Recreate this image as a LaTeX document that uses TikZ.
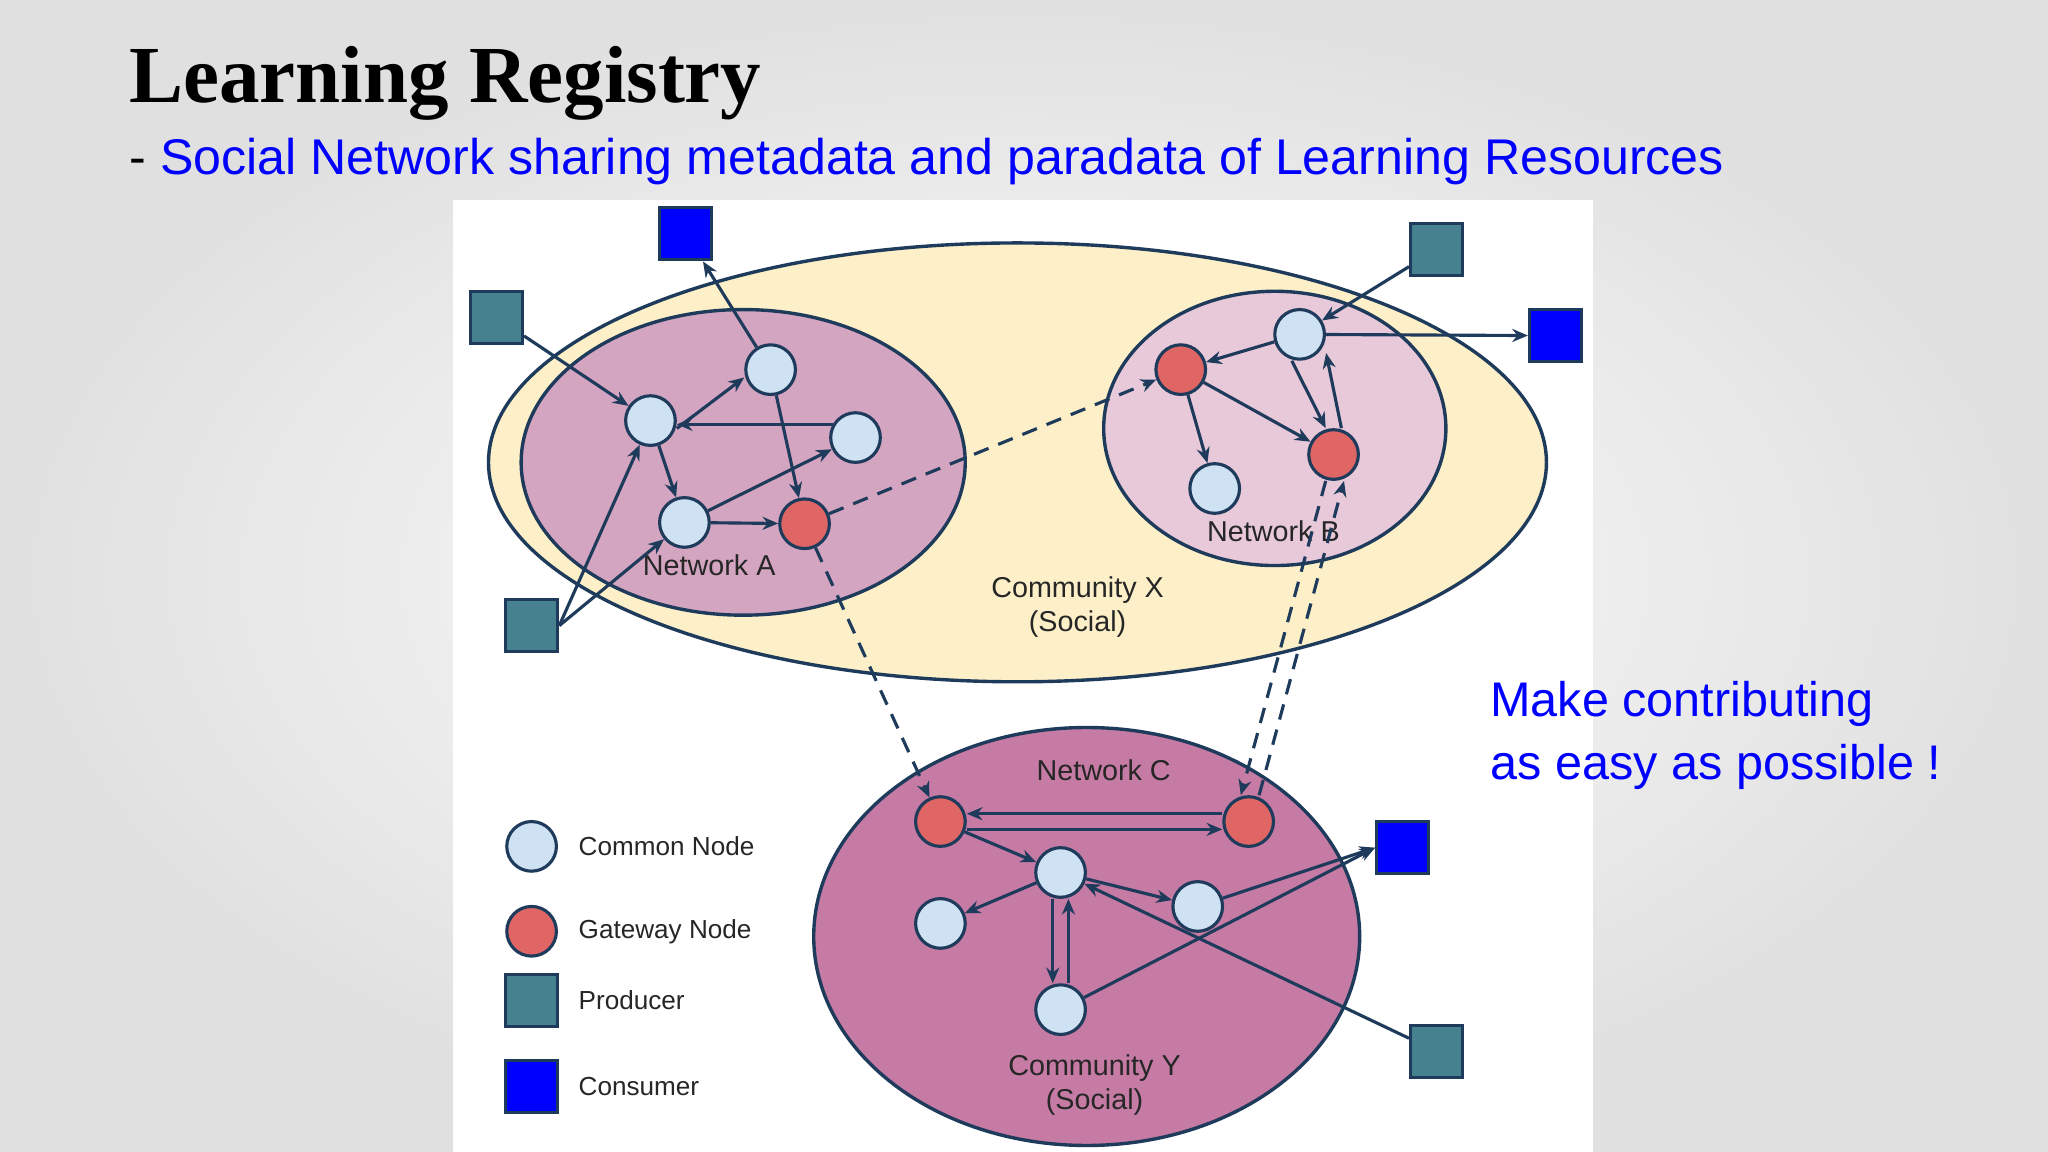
\documentclass[tikz,border=0pt]{standalone}
\usepackage{fontspec}
\setmainfont{Liberation Sans}
\newfontfamily\ttl{Liberation Serif}
\usetikzlibrary{arrows.meta,shadings}
\definecolor{navy}{HTML}{1F3B5C}
\definecolor{cnode}{HTML}{CFE2F3}
\definecolor{gnode}{HTML}{E06666}
\definecolor{prod}{HTML}{45818E}
\definecolor{cons}{HTML}{0000FF}
\definecolor{comx}{HTML}{FDF0C8}
\definecolor{neta}{HTML}{D4A5C0}
\definecolor{netb}{HTML}{E8C9DA}
\definecolor{comy}{HTML}{C57BA3}
\begin{document}
\begin{tikzpicture}[x=0.5pt,y=-0.5pt,
 common/.style={circle,draw=navy,line width=1.2pt,fill=cnode,minimum size=19pt,inner sep=0},
 gate/.style={circle,draw=navy,line width=1.2pt,fill=gnode,minimum size=19pt,inner sep=0},
 producer/.style={rectangle,draw=navy,line width=1.2pt,fill=prod,minimum size=20pt,inner sep=0},
 consumer/.style={rectangle,draw=navy,line width=1.2pt,fill=cons,minimum size=20pt,inner sep=0},
 area/.style={draw=navy,line width=1.3pt},
 arr/.style={-{Stealth[length=6pt,width=5pt]},draw=navy,line width=1.2pt},
 darr/.style={arr,dashed,dash pattern=on 6pt off 4pt},
 lbl/.style={font=\fontsize{11}{13}\selectfont,text=black!85,align=center},
 leg/.style={font=\fontsize{10}{12}\selectfont,text=black!85,anchor=west}]
\useasboundingbox (0,0) rectangle (1568,882);
\shade[inner color=white,outer color=black!12] (0,0) rectangle (1568,882);
\fill[white] (347,153) rectangle (1220,882);
\node[anchor=west,font=\ttl\bfseries\fontsize{31}{36}\selectfont] (title) at (92,64) {Learning Registry};
\node[anchor=west,font=\fontsize{19.2}{22}\selectfont] (sub) at (92,124) {- \textcolor{cons}{Social Network sharing metadata and paradata of Learning Resources}};
\node[anchor=west,align=left,font=\fontsize{18.6}{24}\selectfont,text=cons] (mk) at (1134,563) {Make contributing\\as easy as possible !};
% areas
\draw[area,fill=comx] (779,354) ellipse [x radius=405,y radius=168];
\draw[area,fill=neta] (569,354) ellipse [x radius=170,y radius=117];
\draw[area,fill=netb] (976,328) ellipse [x radius=131,y radius=105];
\draw[area,fill=comy] (832,717) ellipse [x radius=209,y radius=160];
\node[lbl] (la) at (543,433) {Network A};
\node[lbl] (lb) at (975,407) {Network B};
\node[lbl] (lx) at (825,465) {Community X\\(Social)};
\node[lbl] (lc) at (845,590) {Network C};
\node[lbl] (ly) at (838,831) {Community Y\\(Social)};
% network A
\node[common] (a1) at (498,322) {};
\node[common] (a2) at (590,283) {};
\node[common] (a3) at (655,335) {};
\node[common] (a4) at (524,400) {};
\node[gate] (a5) at (616,401) {};
% network B
\node[common] (b1) at (995,256) {};
\node[common] (b2) at (930,374) {};
\node[gate] (b3) at (904,283) {};
\node[gate] (b4) at (1021,348) {};
% network C
\node[gate] (c1) at (720,629) {};
\node[gate] (c2) at (956,629) {};
\node[common] (c3) at (812,668) {};
\node[common] (c4) at (720,707) {};
\node[common] (c5) at (917,694) {};
\node[common] (c6) at (812,773) {};
% producers/consumers
\node[producer] (p1) at (380,243) {};
\node[producer] (p2) at (407,479) {};
\node[producer] (p3) at (1100,191) {};
\node[producer] (p4) at (1100,805) {};
\node[consumer] (k1) at (525,179) {};
\node[consumer] (k2) at (1191,257) {};
\node[consumer] (k3) at (1074,649) {};
% legend
\node[common] (l1) at (407,648) {};
\node[gate] (l2) at (407,713) {};
\node[producer] (l3) at (407,766) {};
\node[consumer] (l4) at (407,832) {};
\node[leg] at (436,648) {Common Node};
\node[leg] at (436,713) {Gateway Node};
\node[leg] at (436,766) {Producer};
\node[leg] at (436,832) {Consumer};
% arrows A
\draw[arr] (p1) -- (a1);
\draw[arr] (p2.east) -- (a1);
\draw[arr] (p2.east) -- (a4);
\draw[arr] (a2) -- (k1);
\draw[arr] (a2) -- (a5);
\draw[arr] ([yshift=-3pt]a1.east) -- ([yshift=-3pt]a2.west);
\draw[arr] (a3.150) -- (a1.east |- a3.150);
\draw[arr] (a1) -- (a4);
\draw[arr] (a4) -- (a5);
\draw[arr] (a4) -- (a3);
\draw[darr] (a5) -- (b3);
\draw[darr] (a5) -- (c1);
% arrows B
\draw[arr] (p3) -- (b1);
\draw[arr] (b1) -- (k2);
\draw[arr] (b1) -- (b3);
\draw[arr] ([xshift=-3pt]b1.south) -- ([xshift=-3pt]b4.north);
\draw[arr] ([xshift=3pt]b4.north) -- ([xshift=3pt]b1.south east);
\draw[arr] (b3) -- (b2);
\draw[arr] (b3) -- (b4);
\draw[darr] ([xshift=-3pt]b4.south) -- ([xshift=-3pt]c2.north);
\draw[darr] ([xshift=4pt]c2.north) -- ([xshift=4pt]b4.south);
% arrows C
\draw[arr] ([yshift=3pt]c2.west) -- ([yshift=3pt]c1.east);
\draw[arr] ([yshift=-3pt]c1.east) -- ([yshift=-3pt]c2.west);
\draw[arr] (c1) -- (c3);
\draw[arr] (c3) -- (c4);
\draw[arr] (c3) -- (c5);
\draw[arr] ([xshift=-3pt]c3.south) -- ([xshift=-3pt]c6.north);
\draw[arr] ([xshift=3pt]c6.north) -- ([xshift=3pt]c3.south);
\draw[arr] (c6) -- (k3.west);
\draw[arr] (c5) -- (k3.west);
\draw[arr] (p4) -- (c3);
\end{tikzpicture}
\end{document}
